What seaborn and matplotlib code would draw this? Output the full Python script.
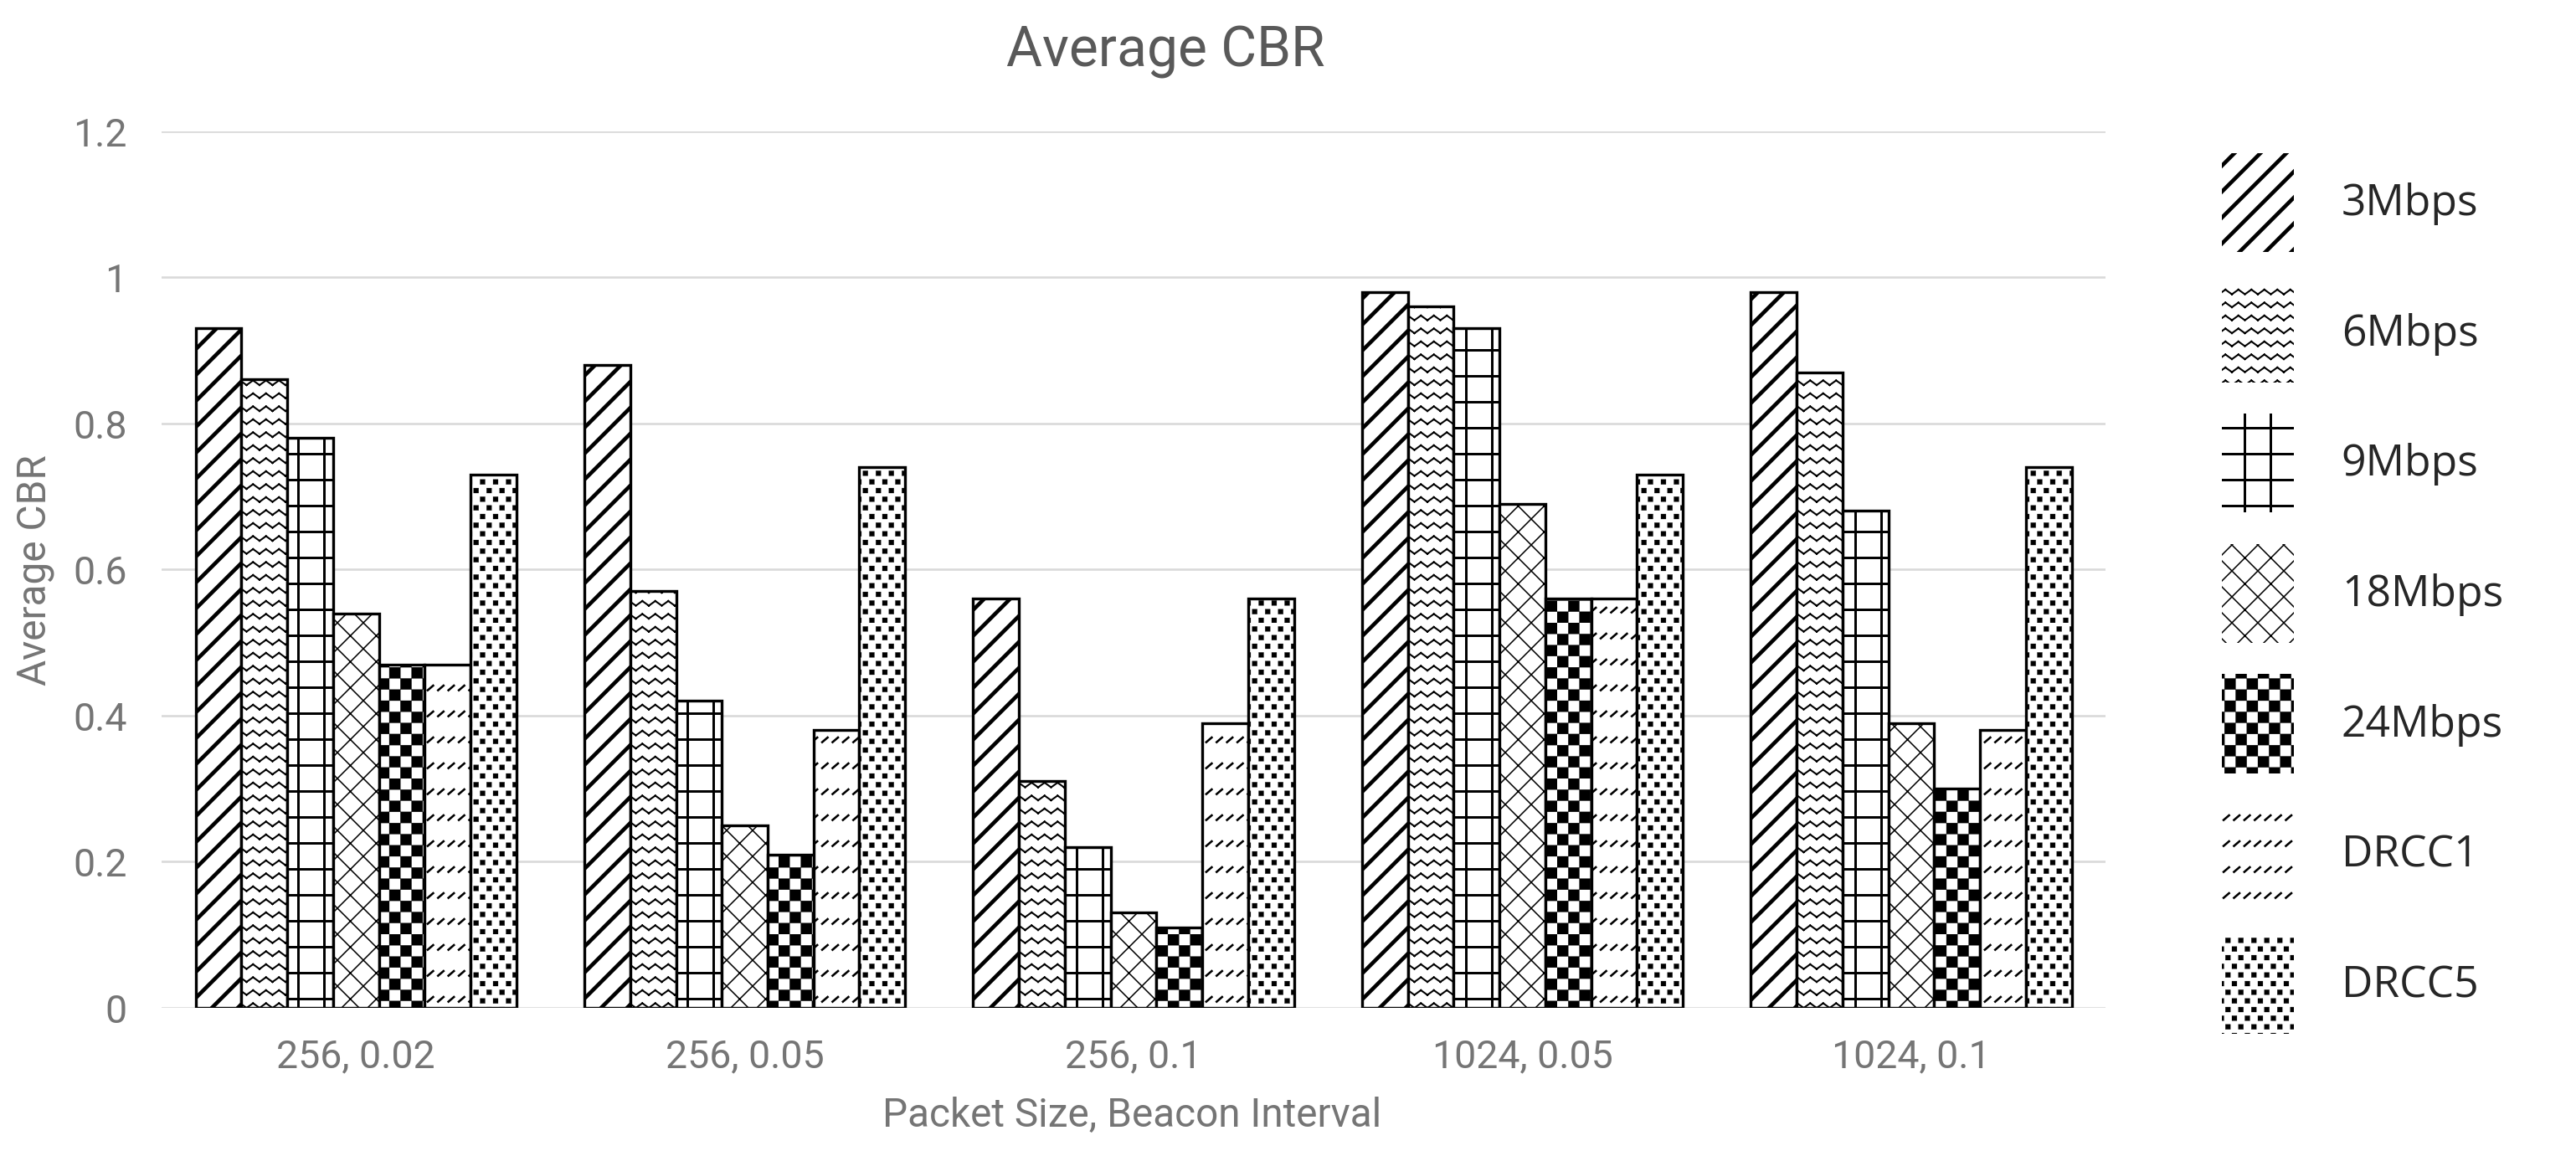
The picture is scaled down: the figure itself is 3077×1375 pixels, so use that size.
import warnings
import numpy as np
import pandas
import seaborn as sns
from matplotlib import pyplot
from matplotlib import hatch as mhatch
from matplotlib.path import Path
from matplotlib.patches import Patch

warnings.filterwarnings('ignore')

# values
settings = ['256, 0.02', '256, 0.05', '256, 0.1', '1024, 0.05', '1024, 0.1']
rates = ['3Mbps', '6Mbps', '9Mbps', '18Mbps', '24Mbps', 'DRCC1', 'DRCC5']
cbr_3mbps = [0.93, 0.88, 0.56, 0.98, 0.98]
cbr_6mbps = [0.86, 0.57, 0.31, 0.96, 0.87]
cbr_9mbps = [0.78, 0.42, 0.22, 0.93, 0.68]
cbr_18mbps = [0.54, 0.25, 0.13, 0.69, 0.39]
cbr_24mbps = [0.47, 0.21, 0.11, 0.56, 0.30]
cbr_drcc1 = [0.47, 0.38, 0.39, 0.56, 0.38]
cbr_drcc5 = [0.73, 0.74, 0.56, 0.73, 0.74]
y_ticks = [0, 0.2, 0.4, 0.6, 0.8, 1.0, 1.2]
y_tick_labels = ['0', '0.2', '0.4', '0.6', '0.8', '1', '1.2']

# fill patterns, one per rate (z, c, d, q are extra patterns defined below)
bar_hatches = ['//', 'z', '+', 'xx', 'c', 'd', 'q']
hatch_widths = [1.8, 0.8, 1.15, 0.6, 0.1, 1.0, 0.1]

MOVE, LINE, CLOSE = Path.MOVETO, Path.LINETO, Path.CLOSEPOLY


def zigzag(rows=12, teeth=12, amp=0.03):
    verts, codes = [], []
    for r in range(rows):
        y0 = (r + 0.5) / rows
        for t in range(teeth):
            x0, xm, x1 = t / teeth, (t + 0.5) / teeth, (t + 1) / teeth
            verts += [(x0, y0 - amp / 2), (xm, y0 + amp / 2), (xm, y0 + amp / 2), (x1, y0 - amp / 2)]
            codes += [MOVE, LINE, MOVE, LINE]
    return Path(verts, codes)


def squares(points, size):
    verts, codes = [], []
    for x0, y0 in points:
        verts += [(x0, y0), (x0 + size, y0), (x0 + size, y0 + size), (x0, y0 + size), (x0, y0)]
        codes += [MOVE, LINE, LINE, LINE, CLOSE]
    return Path(verts, codes)


def checker(n=14):
    pts = [(i / n, j / n) for i in range(n) for j in range(n) if (i + j) % 2 == 0]
    return squares(pts, 1.0 / n)


def confetti(rows=18, cols=12, size=0.032):
    pts = [((c + 0.5 * (r % 2)) / cols, r / rows) for r in range(rows) for c in range(cols)]
    return squares(pts, size)


def dashes(rows=6, cols=15, dx=0.035, dy=0.03):
    verts, codes = [], []
    for r in range(rows):
        y0 = (r + 0.4) / rows
        for c in range(cols):
            x0 = (c + 0.2) / cols
            verts += [(x0, y0), (x0 + dx, y0 + dy)]
            codes += [MOVE, LINE]
    return Path(verts, codes)


class ExtraHatch(mhatch.HatchPatternBase):
    paths = {'z': zigzag(), 'c': checker(), 'd': dashes(), 'q': confetti()}

    def __init__(self, hatch, density):
        found = [self.paths[ch] for ch in hatch if ch in self.paths]
        if found:
            self.verts = np.concatenate([p.vertices for p in found])
            self.codes = np.concatenate([p.codes for p in found])
        else:
            self.verts = np.empty((0, 2))
            self.codes = np.empty(0, dtype=Path.code_type)
        self.num_vertices = len(self.verts)

    def set_vertices_and_codes(self, vertices, codes):
        vertices[:] = self.verts
        codes[:] = self.codes


mhatch._hatch_types.append(ExtraHatch)


def set_hatch_width(patch, lw):
    if hasattr(patch, 'set_hatch_linewidth'):
        patch.set_hatch_linewidth(lw)


sns.set_style("white")
pyplot.rcParams['font.family'] = ['Roboto', 'DejaVu Sans']
pyplot.rcParams['hatch.color'] = 'black'

series = [cbr_3mbps, cbr_6mbps, cbr_9mbps, cbr_18mbps, cbr_24mbps, cbr_drcc1, cbr_drcc5]
plot_df = pandas.DataFrame({
    'setting': settings * len(rates),
    'rate': [r for r in rates for _ in settings],
    'cbr': [v for s in series for v in s],
})

DPI = 186
fig = pyplot.figure(figsize=(3077.4 / DPI, 1375.4 / DPI), dpi=DPI)
ax = fig.add_axes([0.0627, 0.1244, 0.7546, 0.7614])

sns.barplot(data=plot_df, x='setting', y='cbr', hue='rate', order=settings, hue_order=rates,
            palette={r: 'white' for r in rates}, edgecolor='black', linewidth=1.3,
            width=0.825, gap=0, errorbar=None, legend=False, ax=ax)

for container, h, lw in zip(ax.containers, bar_hatches, hatch_widths):
    for bar in container:
        bar.set_hatch(h)
        set_hatch_width(bar, lw)

ax.set_ylim(0, 1.2)
ax.set_xlim(-0.5, len(settings) - 0.5)
ax.set_yticks(y_ticks, y_tick_labels)
ax.yaxis.grid(True, color='#d9d9d9', linewidth=1.0)
ax.set_axisbelow(True)
sns.despine(ax=ax, left=True, bottom=True)
ax.tick_params(axis='both', length=0, colors='#757575', labelsize=18)
ax.tick_params(axis='y', pad=16)
ax.tick_params(axis='x', pad=14)

ax.set_xlabel('Packet Size, Beacon Interval', fontsize=18.5, color='#757575')
ax.xaxis.label.set_va('baseline')
ax.xaxis.set_label_coords(0.499, -0.1356)
ax.set_ylabel('Average CBR', fontsize=18.5, color='#757575')
ax.yaxis.label.set_va('center')
ax.yaxis.set_label_coords(-0.065, 0.5)

fig.text(0.4524, 0.9425, 'Average CBR', ha='center', va='baseline', fontsize=25.5, color='#595959')

handles = [Patch(facecolor='white', edgecolor='black', linewidth=0, hatch=h, label=r)
           for r, h in zip(rates, bar_hatches)]
leg = fig.legend(handles=handles, loc='center left', bbox_to_anchor=(0.8625, 0.4844),
                 frameon=False, prop={'family': ['Open Sans', 'DejaVu Sans'], 'size': 20},
                 handlelength=1.66, handleheight=3.15, handletextpad=1.1, labelspacing=0.72,
                 borderpad=0, borderaxespad=0)
for p, lw in zip(leg.get_patches(), hatch_widths):
    set_hatch_width(p, lw)

pyplot.savefig('out.png', dpi=DPI)
